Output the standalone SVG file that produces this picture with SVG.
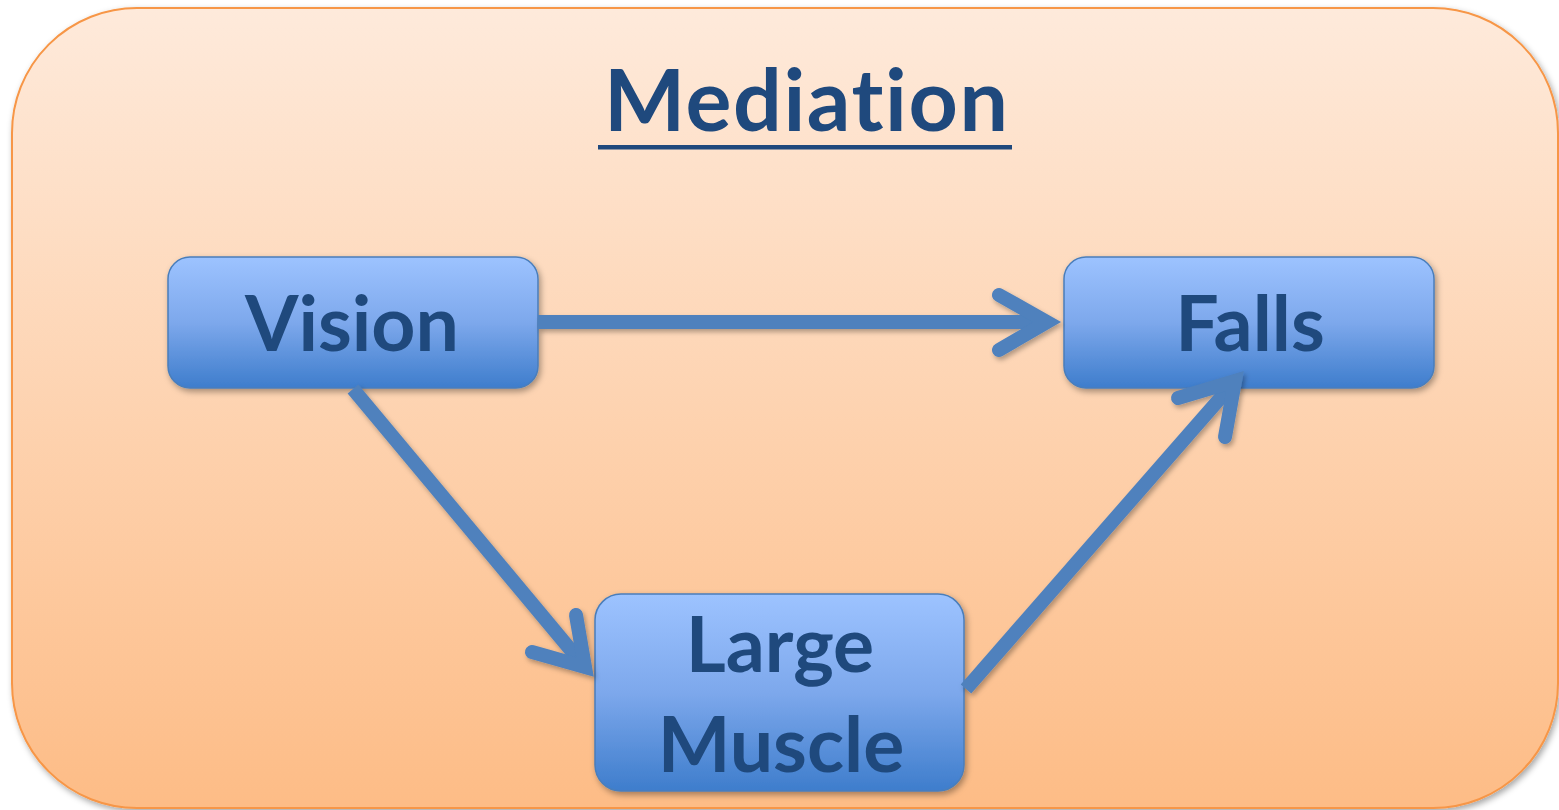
<svg xmlns="http://www.w3.org/2000/svg" width="1559" height="810" viewBox="0 0 1559 810">
<defs>
<linearGradient id="bg" x1="0" y1="0" x2="0" y2="1">
<stop offset="0" stop-color="#FEEADB"/>
<stop offset="1" stop-color="#FDBC86"/>
</linearGradient>
<linearGradient id="nodeg" x1="0" y1="0" x2="0" y2="1">
<stop offset="0" stop-color="#9DC3FF"/>
<stop offset="0.5" stop-color="#7DA8EC"/>
<stop offset="1" stop-color="#3E7DCC"/>
</linearGradient>
<filter id="sh" x="-10%" y="-10%" width="120%" height="130%">
<feDropShadow dx="2" dy="3" stdDeviation="3" flood-color="#000" flood-opacity="0.35"/>
</filter>
<filter id="ash" x="-10%" y="-10%" width="120%" height="120%">
<feDropShadow dx="2" dy="3" stdDeviation="2.5" flood-color="#000" flood-opacity="0.3"/>
</filter>
<style>
.node{fill:url(#nodeg);stroke:#4A7EBB;stroke-width:1.5;filter:url(#sh)}
.lbl{font-family:Lato,"Open Sans","Liberation Sans",sans-serif;font-weight:bold;fill:#1F497D;text-anchor:middle;font-variant-ligatures:none;font-feature-settings:"liga" 0}
.shaft{fill:none;stroke:#4F81BD;stroke-width:14;stroke-linecap:butt}
.head{fill:none;stroke:#4F81BD;stroke-width:14;stroke-linecap:round;stroke-linejoin:miter;stroke-miterlimit:10}
</style>
</defs>
<g id="background">
<rect x="12" y="8" width="1546" height="800" rx="125" ry="125" fill="url(#bg)" stroke="#F79646" stroke-width="2" filter="url(#sh)"/>
</g>
<g id="title">
<text class="lbl" x="806" y="131" font-size="86" textLength="404" lengthAdjust="spacing">Mediation</text>
<rect x="598" y="145" width="414" height="4.5" fill="#1F497D"/>
</g>
<g id="vision">
<rect class="node" x="168" y="257" width="370" height="131" rx="22" ry="22"/>
<text class="lbl" x="352" y="351" font-size="77">Vision</text>
</g>
<g id="falls">
<rect class="node" x="1064" y="257" width="370" height="131" rx="22" ry="22"/>
<text class="lbl" x="1250" y="351" font-size="77">Falls</text>
</g>
<g id="large-muscle">
<rect class="node" x="595" y="594" width="369" height="197" rx="26" ry="26"/>
<text class="lbl" x="780" y="672" font-size="77">Large</text>
<text class="lbl" x="781" y="772" font-size="77">Muscle</text>
</g>
<g id="connectors" filter="url(#ash)">
<line class="shaft" x1="538" y1="322" x2="1040" y2="322"/>
<polyline class="head" points="999,295 1047,322 999,350"/>
<line class="shaft" x1="353" y1="389" x2="580" y2="661"/>
<polyline class="head" points="576,615 585,667 532,652"/>
<line class="shaft" x1="966" y1="689" x2="1230" y2="387"/>
<polyline class="head" points="1178,398 1235,381 1225,437"/>
</g>
</svg>
